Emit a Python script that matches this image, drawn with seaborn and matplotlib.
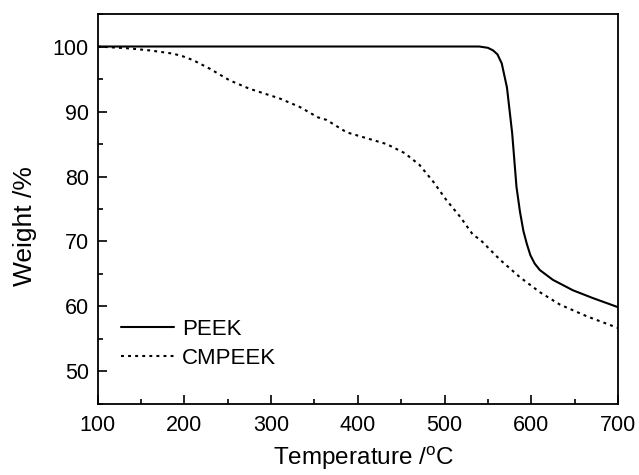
import numpy as np
import pandas as pd
import matplotlib
matplotlib.use("Agg")
import matplotlib.pyplot as plt
import seaborn as sns
from matplotlib.ticker import MultipleLocator

# values
peek_temp = [100, 200, 300, 400, 500, 540, 550, 556, 561, 566, 572, 578, 583, 587,
             591, 595, 599, 604, 610, 625, 648, 671, 700]
peek_weight = [100, 100, 100, 100, 100, 100, 99.8, 99.4, 98.8, 97.4, 93.7, 86.7, 78.4,
               74.6, 71.6, 69.6, 67.9, 66.6, 65.6, 64.1, 62.5, 61.3, 59.9]

cmpeek_temp = [100, 137, 160, 187, 198, 210, 229, 252, 275, 310, 333, 354, 364, 387,
               410, 433, 454, 471, 487, 502, 518, 533, 541, 564, 587, 610, 633, 664, 700]
cmpeek_weight = [100, 99.7, 99.4, 98.9, 98.5, 97.9, 96.6, 94.8, 93.5, 92.0, 90.7, 89.1,
                 88.7, 86.8, 85.9, 85.0, 83.6, 81.8, 79.2, 76.4, 73.8, 71.0, 70.3, 67.2,
                 64.5, 62.2, 60.3, 58.5, 56.7]

sns.set_style("ticks")
plt.rcParams['font.family'] = ['Liberation Sans', 'DejaVu Sans']
plt.rcParams['mathtext.fontset'] = 'custom'
plt.rcParams['mathtext.rm'] = 'Liberation Sans'
for key in ['text.color', 'axes.labelcolor', 'xtick.color', 'ytick.color', 'axes.edgecolor']:
    plt.rcParams[key] = 'black'

fig = plt.figure(figsize=(6.39, 4.75), dpi=100)
ax = fig.add_axes([0.153, 0.1495, 0.814, 0.821])

sns.lineplot(x=peek_temp, y=peek_weight, ax=ax, color='black', lw=1.5, label='PEEK')
sns.lineplot(x=cmpeek_temp, y=cmpeek_weight, ax=ax, color='black', lw=1.5,
             linestyle=(0, (1.4, 2.0)), label='CMPEEK')

ax.set_xlim(100, 700)
ax.set_ylim(45, 105)
ax.xaxis.set_major_locator(MultipleLocator(100))
ax.xaxis.set_minor_locator(MultipleLocator(50))
ax.yaxis.set_major_locator(MultipleLocator(10))
ax.yaxis.set_minor_locator(MultipleLocator(5))
ax.tick_params(which='major', direction='in', length=6.5, width=1.2, labelsize=15.5)
ax.tick_params(axis='x', which='major', pad=8)
ax.tick_params(axis='y', which='major', pad=6.5)
ax.tick_params(which='minor', direction='in', length=3.6, width=1.2)
for s in ax.spines.values():
    s.set_linewidth(1.3)

ax.set_xlabel(r'Temperature /$^{\rm o}$C', fontsize=17.5, labelpad=6)
ax.set_ylabel('Weight /%', fontsize=19, labelpad=11)
ax.xaxis.label.set_x(0.512)
ax.yaxis.label.set_y(0.456)

ax.legend(loc='lower left', bbox_to_anchor=(0.044, 0.09), frameon=False,
          borderpad=0, borderaxespad=0,
          fontsize=16, handlelength=2.4, handletextpad=0.36, labelspacing=0.36)

fig.savefig("out.png", dpi=100)
